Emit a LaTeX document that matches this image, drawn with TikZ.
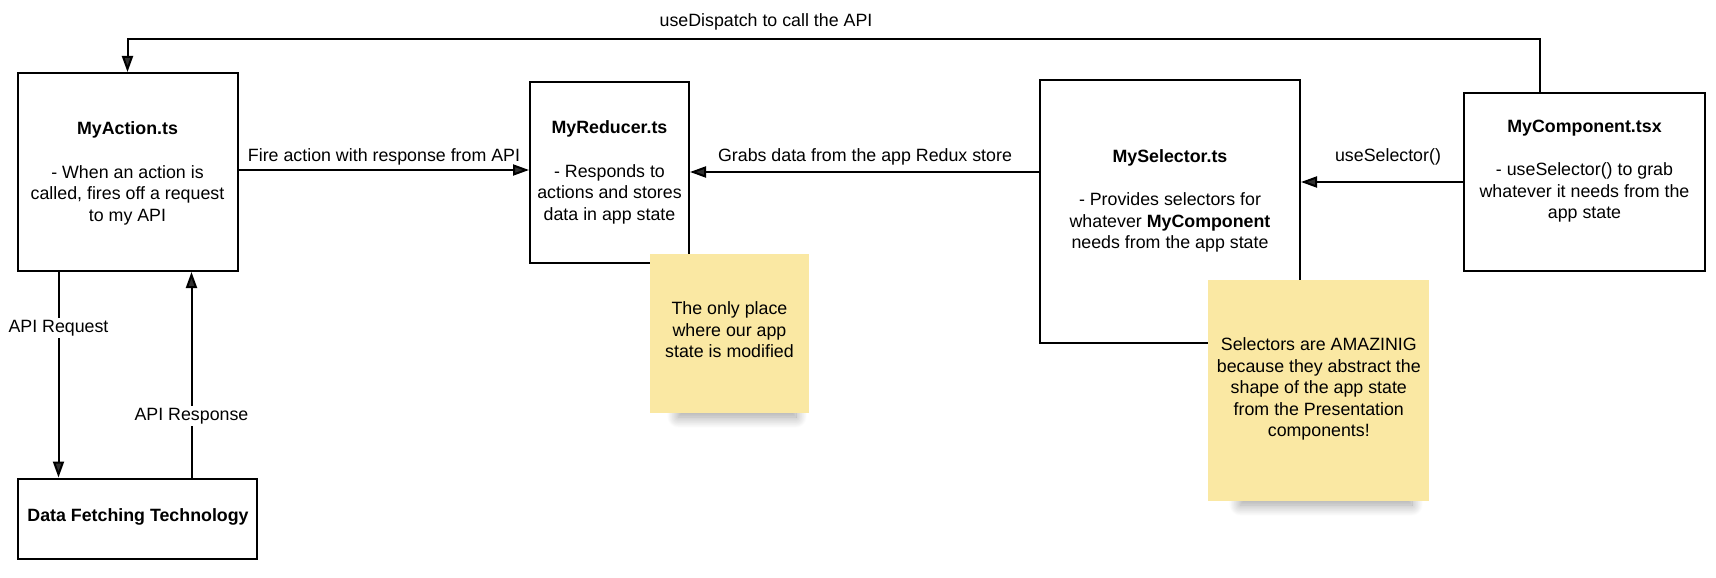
\documentclass[tikz,border=0pt]{standalone}
\usepackage{fontspec}
\setmainfont{Liberation Sans}
\usetikzlibrary{arrows.meta,shadows.blur}
\definecolor{notey}{RGB}{250,232,163}
\begin{document}
\begin{tikzpicture}[x=1pt,y=-1pt,
  box/.style={draw=black,line width=2pt,inner sep=0pt},
  txt/.style={align=center,inner sep=0pt,anchor=base,font=\fontsize{17.8}{21.5}\selectfont},
  lbl/.style={inner sep=2pt,font=\fontsize{17.8}{21.5}\selectfont},
  note/.style={fill=notey,inner sep=0pt},
  shade/.style={fill=notey,blur shadow={shadow xshift=0pt,shadow yshift=-13pt,shadow opacity=38,shadow blur radius=11pt,shadow blur steps=18}},
  arr/.style={line width=2pt,-{Triangle[length=16pt,width=11pt]}}]
\useasboundingbox (0,0) rectangle (1716,578);
% boxes
\node[box,minimum width=220pt,minimum height=198pt] (act) at (127.5,172) {};
\node[box,minimum width=159pt,minimum height=181pt] (red) at (609.5,172.5) {};
\node[box,minimum width=260pt,minimum height=263pt] (sel) at (1170,211.5) {};
\node[box,minimum width=241pt,minimum height=178pt] (comp) at (1584.5,182) {};
\node[box,minimum width=239.5pt,minimum height=80pt] (df) at (137.3,518.5) {};
% box texts (anchor = baseline of last line)
\node[txt] (actT) at (127.5,221) {\textbf{MyAction.ts}\\[22pt]- When an action is\\called, fires off a request\\to my API};
\node[txt] (redT) at (609.5,220) {\textbf{MyReducer.ts}\\[22pt]- Responds to\\actions and stores\\data in app state};
\node[txt] (selT) at (1170,248.5) {\textbf{MySelector.ts}\\[22pt]- Provides selectors for\\whatever \textbf{MyComponent}\\needs from the app state};
\node[txt] (compT) at (1584.5,218.5) {\textbf{MyComponent.tsx}\\[22pt]- useSelector() to grab\\whatever it needs from the\\app state};
\node[txt] (dfT) at (138,521.5) {\textbf{Data Fetching Technology}};
% notes
\path[shade] (678,300) rectangle (796,404);
\node[note,minimum width=159pt,minimum height=159pt] (n1) at (729.5,333.5) {};
\node[txt] (n1T) at (729.5,357.5) {The only place\\where our app\\state is modified};
\path[shade] (1240,350) rectangle (1412,492);
\node[note,minimum width=221pt,minimum height=221pt] (n2) at (1318.5,390.5) {};
\node[txt] (n2T) at (1318.8,436.5) {Selectors are AMAZINIG\\because they abstract the\\shape of the app state\\from the Presentation\\components!};
% connectors
\coordinate (tr) at (1540,39.4);
\coordinate (tl) at (127.5,39.4);
\draw[arr] (comp.north -| tr) -- (tr) -- (tl) -- (act.north);
\node[lbl,anchor=base] (lTop) at (766,27) {useDispatch to call the API};
\coordinate (fy) at (0,170);
\draw[arr] (act.east |- fy) -- (red.west |- fy);
\node[lbl,anchor=base] (lFire) at (384,161) {Fire action with response from API};
\coordinate (gy) at (0,172);
\draw[arr] (sel.west |- gy) -- (red.east |- gy);
\node[lbl,anchor=base] (lGrab) at (865,161) {Grabs data from the app Redux store};
\draw[arr] (comp.west) -- (sel.east |- comp.west);
\node[lbl,anchor=base] (lUse) at (1388,161) {useSelector()};
\coordinate (rx) at (58.5,0);
\coordinate (sx) at (191.5,0);
\draw[arr] (act.south -| rx) -- (df.north -| rx);
\node[lbl,fill=white] (lReq) at (58.5,328) {API Request};
\draw[arr] (df.north -| sx) -- (act.south -| sx);
\node[lbl,fill=white] (lResp) at (191.5,416) {API Response};
\end{tikzpicture}
\end{document}
